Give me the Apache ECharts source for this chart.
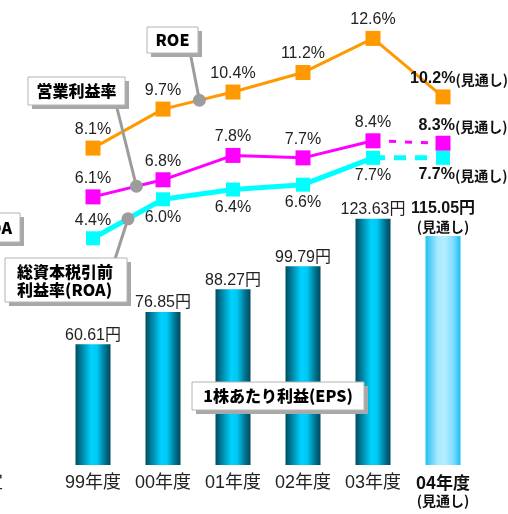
<!DOCTYPE html>
<html><head><meta charset="utf-8">
<script src="https://cdn.jsdelivr.net/npm/echarts@6/dist/echarts.min.js"></script>
<style>html,body{margin:0;padding:0;background:#fff}#c{width:508px;height:514px}</style>
</head><body><div id="c"></div>
<script>
const categories = ['99年度', '00年度', '01年度', '02年度', '03年度', '04年度'];
const epsValues = [60.61, 76.85, 88.27, 99.79, 123.63, 115.05];
const roeValues = [8.1, 9.7, 10.4, 11.2, 12.6, 10.2];
const opMarginValues = [6.1, 6.8, 7.8, 7.7, 8.4, 8.3];
const roaValues = [4.4, 6.0, 6.4, 6.6, 7.7, 7.7];
const forecastIndex = 5;
const forecastText = '(見通し)';

const FONT = '"Liberation Sans", Arial, "Noto Sans CJK JP", sans-serif';
const BFONT = '"Noto Sans CJK JP", "Liberation Sans", sans-serif';
const chart = echarts.init(document.getElementById('c'), null, {renderer: 'canvas'});

const barGrad = new echarts.graphic.LinearGradient(0, 0, 1, 0, [
  {offset: 0, color: '#004c60'}, {offset: 0.2, color: '#0088a8'},
  {offset: 0.45, color: '#00d2ff'}, {offset: 0.62, color: '#00c8f2'},
  {offset: 0.85, color: '#007290'}, {offset: 1, color: '#00485c'}]);
const barGradLight = new echarts.graphic.LinearGradient(0, 0, 1, 0, [
  {offset: 0, color: '#22c0f0'}, {offset: 0.35, color: '#a8eaff'},
  {offset: 0.55, color: '#b4eeff'}, {offset: 0.8, color: '#7edcff'}, {offset: 1, color: '#18bdf0'}]);

const pct = v => v.toFixed(1) + '%';
const richF = {
  b: {fontFamily: FONT, fontWeight: 'bold', fontSize: 16, color: '#111', verticalAlign: 'bottom'},
  s: {fontFamily: BFONT, fontWeight: 'bold', fontSize: 14, color: '#111', verticalAlign: 'bottom', padding: [0, 0, 0, 0]}
};

function lineData(vals, opts) {
  return vals.map((v, i) => {
    if (i === forecastIndex) return '-';
    const item = {value: v};
    if (opts.posFn) item.label = {position: opts.posFn(i)};
    return item;
  });
}
function dashData(vals, labelPos, offset) {
  return vals.map((v, i) => {
    if (i < forecastIndex - 1) return '-';
    if (i === forecastIndex - 1) return {value: v, symbolSize: 0, label: {show: false}};
    return {value: v, label: {show: true, position: labelPos, offset: offset, distance: 2,
      formatter: '{b|' + pct(v) + '}{s|' + forecastText + '}', rich: richF}};
  });
}
const baseLabel = {show: true, fontFamily: FONT, fontSize: 16, color: '#222', distance: 3,
  formatter: p => pct(p.value)};

const option = {
  animation: false,
  grid: {left: 58, right: 30, top: 25, bottom: 49},
  xAxis: {
    type: 'category', data: categories,
    axisLine: {show: false}, axisTick: {show: false},
    axisLabel: {
      interval: 0, margin: 8, fontFamily: FONT, fontSize: 18, color: '#222', lineHeight: 20,
      formatter: (v, i) => i === forecastIndex ? '{b|' + v + '}\n{s|' + forecastText + '}' : v,
      rich: {
        b: {fontFamily: BFONT, fontWeight: 'bold', fontSize: 17, color: '#111', lineHeight: 20},
        s: {fontFamily: BFONT, fontWeight: 'bold', fontSize: 14, color: '#111', lineHeight: 16}
      }
    }
  },
  yAxis: [
    {type: 'value', min: 0, max: 221, show: false, splitLine: {show: false}},
    {type: 'value', min: -4.9, max: 13.15, show: false, splitLine: {show: false}}
  ],
  series: [
    {
      type: 'bar', yAxisIndex: 0, barWidth: 35, z: 1,
      data: epsValues.map((v, i) => i === forecastIndex ? {
        value: v, itemStyle: {color: barGradLight},
        label: {formatter: '{b|' + v.toFixed(2) + '円}\n{s|' + forecastText + '}', lineHeight: 18,
          rich: {b: {fontFamily: FONT, fontWeight: 'bold', fontSize: 16, color: '#111', lineHeight: 18},
                 s: {fontFamily: BFONT, fontWeight: 'bold', fontSize: 14, color: '#111', lineHeight: 17}}}
      } : v),
      itemStyle: {color: barGrad},
      label: {show: true, position: 'top', distance: 1, fontFamily: FONT, fontSize: 16, color: '#222',
        formatter: p => p.value.toFixed(2) + '円'}
    },
    {
      name: 'ROE', type: 'line', yAxisIndex: 1, z: 5,
      data: roeValues.map((v, i) => i === forecastIndex ? {value: v, label: {position: 'top', offset: [16, 0],
        formatter: '{b|' + pct(v) + '}{s|' + forecastText + '}', rich: richF}} : v),
      symbol: 'rect', symbolSize: 15, color: '#ff9900',
      lineStyle: {color: '#ff9900', width: 3},
      label: Object.assign({}, baseLabel, {position: 'top'})
    },
    {
      name: '営業利益率', type: 'line', yAxisIndex: 1, z: 5,
      data: lineData(opMarginValues, {}),
      symbol: 'rect', symbolSize: 15, color: '#ff00ff',
      lineStyle: {color: '#ff00ff', width: 3},
      label: Object.assign({}, baseLabel, {position: 'top'})
    },
    {
      name: '営業利益率見通し', type: 'line', yAxisIndex: 1, z: 4,
      data: dashData(opMarginValues, 'top', [20, 0]),
      symbol: 'rect', symbolSize: 15, color: '#ff00ff',
      lineStyle: {color: '#ff00ff', width: 3, type: [7, 9]},
      label: {show: false}
    },
    {
      name: 'ROA', type: 'line', yAxisIndex: 1, z: 5,
      data: lineData(roaValues, {posFn: i => i === 0 ? 'top' : 'bottom'}),
      symbol: 'rect', symbolSize: 14, color: '#00ffff',
      lineStyle: {color: '#00ffff', width: 5},
      label: Object.assign({}, baseLabel, {position: 'bottom'})
    },
    {
      name: 'ROA見通し', type: 'line', yAxisIndex: 1, z: 4,
      data: dashData(roaValues, 'bottom', [20, 0]),
      symbol: 'rect', symbolSize: 14, color: '#00ffff',
      lineStyle: {color: '#00ffff', width: 5, type: [12, 9]},
      label: {show: false}
    }
  ]
};
chart.setOption(option);

// callout annotations anchored on line segments
function along(sIdx, vals, i, t) {
  const a = chart.convertToPixel({seriesIndex: sIdx}, [i, vals[i]]);
  const b = chart.convertToPixel({seriesIndex: sIdx}, [i + 1, vals[i + 1]]);
  return [a[0] + (b[0] - a[0]) * t, a[1] + (b[1] - a[1]) * t];
}
const pRoe = along(1, roeValues, 1, 0.52);
const pOp = along(2, opMarginValues, 0, 0.62);
const pRoa = along(4, roaValues, 0, 0.5);

const GRAY = '#9c9c9c';
function box(x, y, w, h, text, opts) {
  opts = opts || {};
  return [
    {type: 'rect', z: 100, shape: {x: x + 4, y: y + 4, width: w, height: h}, style: {fill: '#a8a8a8'}},
    {type: 'rect', z: 101, shape: {x: x, y: y, width: w, height: h}, style: {fill: '#fff', stroke: '#b4b4b4', lineWidth: 1}},
    {type: 'text', z: 102, x: opts.tx != null ? opts.tx : x + w / 2, y: opts.ty != null ? opts.ty : y + h / 2,
      style: {text: text, fill: '#000', font: '900 16px ' + BFONT, align: opts.align || 'center',
        verticalAlign: 'middle', lineHeight: opts.lh || 18}}
  ];
}
function pointer(x1, y1, p) {
  return [
    {type: 'line', z: 99, shape: {x1: x1, y1: y1, x2: p[0], y2: p[1]}, style: {stroke: GRAY, lineWidth: 3}},
    {type: 'circle', z: 99, shape: {cx: p[0], cy: p[1], r: 6.5}, style: {fill: GRAY}}
  ];
}
const g = [].concat(
  pointer(190, 52, pRoe), pointer(116, 104, pOp), pointer(115, 259, pRoa),
  box(147, 27, 51, 26, 'ROE'),
  box(28, 77, 97, 28, '営業利益率'),
  box(5, 258, 122, 44, '総資本税引前\n利益率(ROA)', {tx: 17, align: 'left', ty: 281, lh: 18}),
  box(192, 382, 172, 28, '1株あたり利益(EPS)'),
  box(-60, 213, 80, 29, 'ROA', {tx: 12, align: 'right'}),
  [{type: 'text', z: 102, x: 3, y: 483, style: {text: '予定', fill: '#222', font: '18px ' + FONT, align: 'right', verticalAlign: 'middle'}}]
);
chart.setOption({graphic: g});
</script></body></html>
